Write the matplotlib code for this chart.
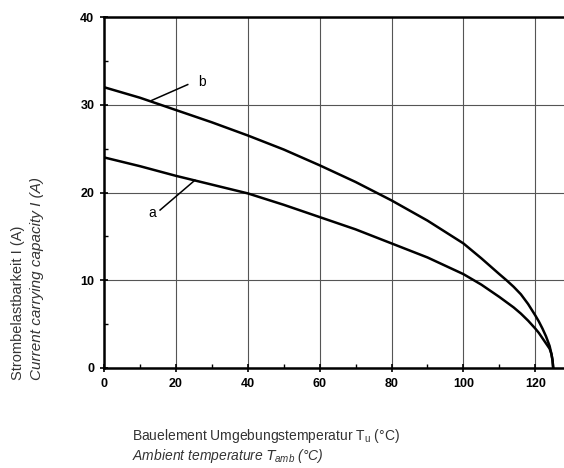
import matplotlib
matplotlib.use("Agg")
import matplotlib.pyplot as plt
from matplotlib.ticker import MultipleLocator

# Data
temp_b = [0, 10, 20, 30, 40, 50, 60, 70, 80, 90, 100, 105, 110, 112, 114, 116, 118, 120, 121, 122, 123, 124, 124.5, 124.8, 125]
curr_b = [32.0, 30.8, 29.4, 28.0, 26.5, 24.9, 23.1, 21.2, 19.1, 16.8, 14.2, 12.5, 10.7, 10.0, 9.25, 8.4, 7.3, 6.0, 5.3, 4.5, 3.6, 2.5, 1.6, 0.9, 0.0]
temp_a = [0, 10, 20, 30, 40, 50, 60, 70, 80, 90, 100, 105, 110, 112, 114, 116, 118, 120, 121, 122, 123, 124, 124.5, 124.8, 125]
curr_a = [24.0, 23.0, 21.9, 20.9, 19.9, 18.6, 17.2, 15.8, 14.2, 12.6, 10.7, 9.5, 8.1, 7.5, 6.9, 6.2, 5.4, 4.5, 4.0, 3.4, 2.8, 2.2, 1.6, 0.9, 0.0]
x_ticks = [0, 20, 40, 60, 80, 100, 120]
y_ticks = [0, 10, 20, 30, 40]
label_b = "b"
label_a = "a"

fig = plt.figure(figsize=(5.64, 4.68), dpi=100)
ax = fig.add_axes([104/564, 100/468, 1 - 104/564, 351/468])

ax.plot(temp_b, curr_b, color="black", lw=1.8, solid_joinstyle="round")
ax.plot(temp_a, curr_a, color="black", lw=1.8, solid_joinstyle="round")

ax.set_xlim(0, 128)
ax.set_ylim(0, 40)
ax.set_xticks(x_ticks)
ax.set_yticks(y_ticks)
ax.xaxis.set_minor_locator(MultipleLocator(10))
ax.yaxis.set_minor_locator(MultipleLocator(5))
ax.grid(True, which="major", color="#555555", lw=0.8)
ax.tick_params(which="major", direction="inout", length=6, width=1.2, labelsize=9, pad=4)
ax.tick_params(which="minor", direction="in", length=3, width=1.0)
for lab in ax.get_xticklabels() + ax.get_yticklabels():
    lab.set_fontweight("bold")
    lab.set_family("Liberation Sans")
for s in ["left", "bottom", "top"]:
    ax.spines[s].set_linewidth(1.8)
ax.spines["right"].set_visible(False)

# annotations
ax.plot([13.3, 23.3], [30.5, 32.3], color="black", lw=1.1)
ax.text(27.3, 32.6, label_b, fontsize=10, fontfamily="Liberation Sans", va="center", ha="center")
ax.plot([15.6, 25.3], [18.0, 21.4], color="black", lw=1.1)
ax.text(13.3, 17.7, label_a, fontsize=10, fontfamily="Liberation Sans", va="center", ha="center")

col = "#333333"
fig.text(18/564, 1 - 380/468, "Strombelastbarkeit I (A)", rotation=90, ha="center", va="bottom",
         fontsize=10.5, family="Liberation Sans", color=col)
fig.text(37/564, 1 - 380/468, "Current carrying capacity I (A)", rotation=90, ha="center", va="bottom",
         fontsize=11, family="Liberation Sans", style="italic", color=col)
fig.text(132/564, 1 - 436/468, r"Bauelement Umgebungstemperatur T$_\mathregular{u}$ (°C)", ha="left", va="center",
         fontsize=10, family="Liberation Sans", color=col)
fig.text(132/564, 1 - 456/468, r"Ambient temperature $T_\mathregular{amb}$ (°C)", ha="left", va="center",
         fontsize=10, family="Liberation Sans", style="italic", color=col)

fig.savefig("out.png", dpi=100)
